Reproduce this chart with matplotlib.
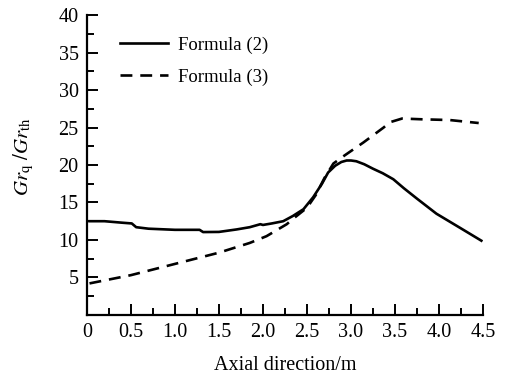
import numpy as np
import matplotlib.pyplot as plt
from matplotlib.ticker import MultipleLocator

plt.rcParams['font.family'] = 'Liberation Serif'
plt.rcParams['mathtext.fontset'] = 'stix'

# Formula (2) - solid line
x_f2 = [0.03, 0.2, 0.4, 0.51, 0.56, 0.7, 0.9, 1.0, 1.2, 1.28, 1.32, 1.5, 1.7, 1.85,
        1.97, 2.0, 2.1, 2.23, 2.34, 2.46, 2.57, 2.67, 2.74, 2.82, 2.89, 2.95, 3.0, 3.06,
        3.15, 3.25, 3.36, 3.48, 3.6, 3.75, 3.97, 4.24, 4.48]
y_f2 = [12.5, 12.5, 12.3, 12.2, 11.7, 11.5, 11.4, 11.35, 11.35, 11.35, 11.05, 11.07, 11.4, 11.7,
        12.1, 12.0, 12.2, 12.5, 13.2, 14.1, 15.7, 17.5, 19.0, 19.9, 20.4, 20.6, 20.6, 20.5,
        20.1, 19.5, 18.9, 18.1, 16.9, 15.5, 13.5, 11.6, 9.9]

# Formula (3) - dashed line
x_f3 = [0.03, 0.5, 1.0, 1.5, 1.85, 2.04, 2.27, 2.34, 2.5, 2.6, 2.7, 2.8, 2.93, 3.14, 3.37,
        3.44, 3.58, 3.8, 4.12, 4.45]
y_f3 = [4.2, 5.3, 6.8, 8.3, 9.6, 10.5, 12.1, 12.8, 14.3, 16.0, 18.3, 20.2, 21.3, 23.0, 25.0,
        25.7, 26.2, 26.1, 26.0, 25.6]

xticks = [0, 0.5, 1.0, 1.5, 2.0, 2.5, 3.0, 3.5, 4.0, 4.5]
xticklabels = ['0', '0.5', '1.0', '1.5', '2.0', '2.5', '3.0', '3.5', '4.0', '4.5']
yticks = [5, 10, 15, 20, 25, 30, 35, 40]

fig = plt.figure(figsize=(5.08, 3.78), dpi=100)
ax = fig.add_axes([0.171, 0.167, 0.78, 0.793])

ax.plot(x_f2, y_f2, color='black', lw=1.9, label='Formula (2)')
ax.plot(x_f3, y_f3, color='black', lw=1.9, ls=(0, (4.5, 3)), label='Formula (3)')

ax.set_xlim(0, 4.5)
ax.set_ylim(0, 40)
ax.set_xticks(xticks)
ax.set_xticklabels(xticklabels)
ax.set_yticks(yticks)
ax.xaxis.set_minor_locator(MultipleLocator(0.25))
ax.yaxis.set_minor_locator(MultipleLocator(2.5))

for s in ['top', 'right']:
    ax.spines[s].set_visible(False)
for s in ['left', 'bottom']:
    ax.spines[s].set_linewidth(1.6)

ax.tick_params(which='major', direction='in', length=8, width=1.4, labelsize=14.5, pad=6)
ax.tick_params(which='minor', direction='in', length=5, width=1.4)

ax.set_xlabel('Axial direction/m', fontsize=14.5, labelpad=10)
ax.set_ylabel(r'$Gr_{\mathrm{q}}\ /Gr_{\mathrm{th}}$', fontsize=15)
ax.yaxis.set_label_coords(-0.128, 0.527)

ax.legend(loc='upper left', bbox_to_anchor=(0.04, 0.985), frameon=False, fontsize=13.5,
          handlelength=2.6, handletextpad=0.5, labelspacing=0.8)

fig.savefig('out.png', dpi=100)
